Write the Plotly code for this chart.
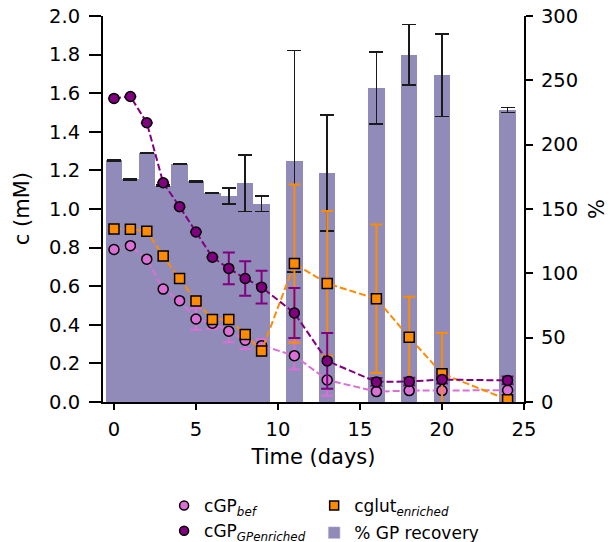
import plotly.graph_objects as go

# Sampling days
days = [0, 1, 2, 3, 4, 5, 6, 7, 8, 9, 11, 13, 16, 18, 20, 24]

# Glycopeptide concentration before enrichment (mM)
gp_bef = [0.79, 0.81, 0.74, 0.585, 0.525, 0.43, 0.408, 0.367, 0.32, 0.292,
          0.24, 0.114, 0.054, 0.059, 0.059, 0.061]
gp_bef_err = [None, None, None, None, None, 0.056, 0.03, 0.057, 0.045, 0.035,
              0.072, 0.081, 0.01, 0.01, 0.01, 0.01]

# Glycopeptide concentration after enrichment (mM)
gp_enr = [1.573, 1.583, 1.447, 1.136, 1.012, 0.881, 0.750, 0.692, 0.640, 0.595,
          0.461, 0.213, 0.104, 0.106, 0.116, 0.112]
gp_enr_err = [None, None, None, None, None, None, None, 0.082, 0.089, 0.085,
              0.13, 0.144, 0.02, 0.02, 0.02, 0.02]

# Glutamate in the enriched fraction (mM)
glut = [0.897, 0.895, 0.885, 0.756, 0.640, 0.523, 0.428, 0.428, 0.350, 0.264,
        0.717, 0.614, 0.535, 0.335, 0.147, 0.012]
glut_err = [None, None, None, None, None, None, None, None, None, None,
            0.41, 0.375, 0.385, 0.21, 0.21, None]

# GP recovery (%)
recovery = [188, 173, 193.5, 168, 185, 171.5, 162.5, 160, 170, 154,
            187, 178, 244, 270, 254, 227]
recovery_err = [0.5, 0.5, 0.5, 0.5, 0.5, 0.5, 0.5, 6.3, 22, 6,
                86, 45, 28, 23.5, 32, 2]

BAR = "rgb(145,139,185)"
PINK = "#DA70D6"
PURPLE = "#800080"
ORANGE = "#FF8C00"
FONT = "DejaVu Sans"

fig = go.Figure()

fig.add_trace(go.Bar(
    x=days, y=recovery, width=1, yaxis="y",
    marker=dict(color=BAR, line=dict(width=0)),
    error_y=dict(type="data", array=recovery_err, color="#1a1a1a",
                 thickness=1.5, width=7),
    showlegend=False, hoverinfo="skip",
))


def series(y, err, color, symbol):
    return go.Scatter(
        x=days, y=y, yaxis="y2", mode="lines+markers",
        line=dict(color=color, width=2, dash="7px,3px"),
        marker=dict(symbol=symbol, size=10, color=color,
                    line=dict(color="black", width=1.5)),
        error_y=dict(type="data", array=err, color=color,
                     thickness=2, width=6),
        showlegend=False,
    )


fig.add_trace(series(gp_bef, gp_bef_err, PINK, "circle"))
fig.add_trace(series(glut, glut_err, ORANGE, "square"))
fig.add_trace(series(gp_enr, gp_enr_err, PURPLE, "circle"))

# Legend entries (markers only), two columns
legend_items = [
    ("cGP<sub><i>bef</i></sub>", PINK, "circle", "legend"),
    ("cGP<sub><i>GPenriched</i></sub>", PURPLE, "circle", "legend"),
    ("cglut<sub><i>enriched</i></sub>", ORANGE, "square", "legend2"),
]
for i, (name, color, symbol, leg) in enumerate(legend_items):
    fig.add_trace(go.Scatter(
        x=[None], y=[None], yaxis="y2", mode="markers", name=name,
        legend=leg, legendgroup=f"g{i}",
        marker=dict(symbol=symbol, size=9, color=color,
                    line=dict(color="black", width=1.5)),
    ))
fig.add_trace(go.Bar(x=[None], y=[None], yaxis="y", name="% GP recovery",
                     legend="legend2", legendgroup="g3",
                     marker=dict(color=BAR)))

axis_common = dict(
    ticks="outside", tickwidth=1.5, tickcolor="black",
    showline=True, linewidth=2, linecolor="black",
    showgrid=False, zeroline=False, automargin=False,
    tickfont=dict(family=FONT, size=19.5, color="black"),
)

legend_common = dict(
    orientation="v", xref="container", yref="container",
    xanchor="left", yanchor="top", y=0.0996,
    font=dict(family=FONT, size=17),
    bgcolor="rgba(0,0,0,0)",
)

fig.update_layout(
    width=610, height=542,
    margin=dict(l=103, r=86, t=16, b=140, autoexpand=False),
    plot_bgcolor="white", paper_bgcolor="white",
    font=dict(family=FONT, size=19, color="black"),
    bargap=0,
    xaxis=dict(
        range=[-0.67, 25], tick0=0, dtick=5, ticklen=6,
        ticklabelstandoff=3,
        title=dict(text="Time (days)", font=dict(size=21), standoff=9),
        **axis_common,
    ),
    yaxis=dict(
        side="right", range=[0, 300], tick0=0, dtick=50, ticklen=7,
        ticklabelstandoff=4,
        **axis_common,
    ),
    yaxis2=dict(
        overlaying="y", side="left", range=[0, 2], tick0=0, dtick=0.2,
        tickformat=".1f", ticklen=12, ticklabelstandoff=5,
        **axis_common,
    ),
    legend=dict(x=0.269, tracegroupgap=0, **legend_common),
    legend2=dict(x=0.515, tracegroupgap=2, **legend_common),
)

# Vertical axis titles
fig.add_annotation(text="c (mM)", xref="paper", yref="paper",
                   x=-0.192, y=0.5, xanchor="center", yanchor="middle",
                   textangle=-90, showarrow=False,
                   font=dict(family=FONT, size=21, color="black"))
fig.add_annotation(text="%", xref="paper", yref="paper",
                   x=1.1734, y=0.5, xanchor="center", yanchor="middle",
                   textangle=-90, showarrow=False,
                   font=dict(family=FONT, size=21, color="black"))

fig.write_html("out.html")
